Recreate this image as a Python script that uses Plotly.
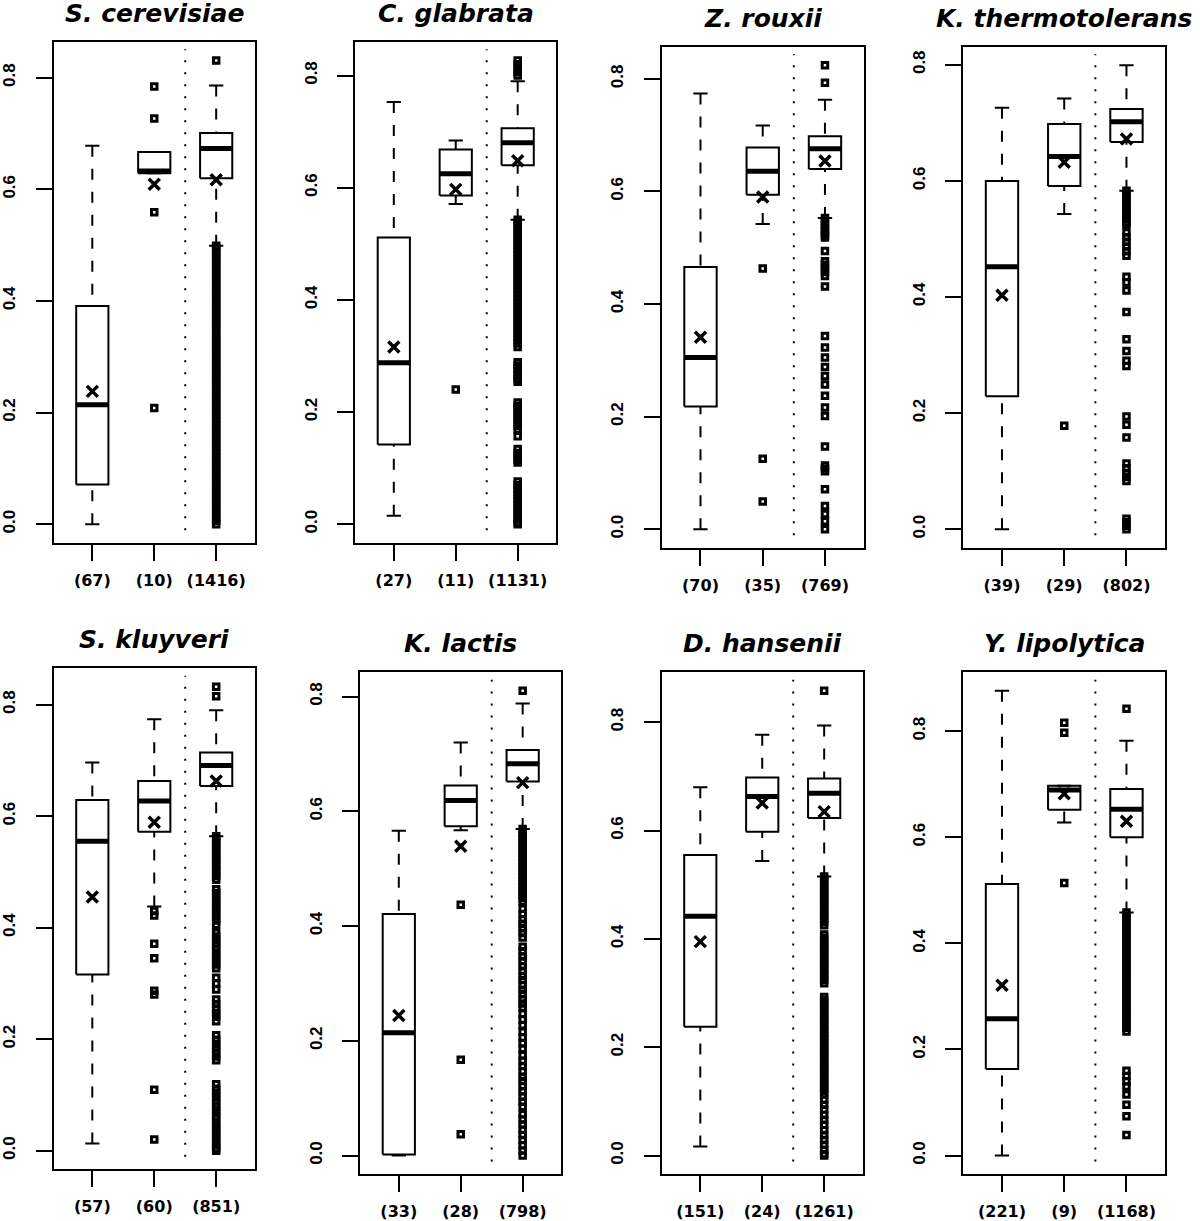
import plotly.graph_objects as go

W, H = 1200, 1221

species = ["S. cerevisiae", "C. glabrata", "Z. rouxii", "K. thermotolerans",
           "S. kluyveri", "K. lactis", "D. hansenii", "Y. lipolytica"]
group_pos = [1, 2, 3]
counts = [[67, 10, 1416], [27, 11, 1131], [70, 35, 769], [39, 29, 802],
          [57, 60, 851], [33, 28, 798], [151, 24, 1261], [221, 9, 1168]]

upper_whisker = [[0.678, 0.667, 0.786], [0.753, 0.684, 0.790], [0.774, 0.717, 0.763], [0.726, 0.742, 0.799],
                 [0.696, 0.774, 0.790], [0.566, 0.720, 0.788], [0.680, 0.777, 0.794], [0.876, 0.697, 0.782]]
upper_quartile = [[0.391, 0.667, 0.701], [0.511, 0.668, 0.706], [0.466, 0.678, 0.698], [0.600, 0.698, 0.724],
                  [0.629, 0.663, 0.714], [0.421, 0.645, 0.707], [0.555, 0.698, 0.696], [0.512, 0.697, 0.691]]
medians = [[0.214, 0.633, 0.673], [0.288, 0.625, 0.680], [0.305, 0.636, 0.676], [0.452, 0.642, 0.702],
           [0.555, 0.627, 0.691], [0.214, 0.619, 0.683], [0.442, 0.663, 0.669], [0.258, 0.689, 0.653]]
lower_quartile = [[0.071, 0.629, 0.620], [0.142, 0.586, 0.640], [0.218, 0.594, 0.640], [0.229, 0.591, 0.667],
                  [0.316, 0.572, 0.654], [0.002, 0.574, 0.652], [0.238, 0.598, 0.623], [0.163, 0.652, 0.600]]
lower_whisker = [[0.000, 0.629, 0.499], [0.015, 0.571, 0.543], [0.000, 0.542, 0.553], [0.000, 0.543, 0.583],
                 [0.013, 0.438, 0.564], [0.000, 0.567, 0.569], [0.017, 0.544, 0.515], [0.000, 0.628, 0.458]]
means = [[0.238, 0.609, 0.617], [0.316, 0.597, 0.648], [0.341, 0.590, 0.654], [0.403, 0.632, 0.672],
         [0.455, 0.589, 0.663], [0.244, 0.539, 0.650], [0.395, 0.651, 0.635], [0.321, 0.682, 0.630]]

outliers_scer = [
    [],
    [0.784, 0.727, 0.559, 0.208],
    [0.831, 0.499, 0.495, 0.489, 0.482, 0.476, 0.470, 0.463, 0.457, 0.451, 0.444, 0.438, 0.432, 0.425,
     0.419, 0.413, 0.406, 0.400, 0.394, 0.387, 0.381, 0.375, 0.368, 0.362, 0.356, 0.350, 0.342, 0.335,
     0.329, 0.323, 0.316, 0.310, 0.304, 0.297, 0.291, 0.285, 0.278, 0.272, 0.266, 0.259, 0.253, 0.247,
     0.240, 0.234, 0.228, 0.221, 0.215, 0.209, 0.202, 0.196, 0.190, 0.183, 0.177, 0.171, 0.164, 0.158,
     0.152, 0.145, 0.139, 0.133, 0.126, 0.120, 0.114, 0.107, 0.101, 0.095, 0.088, 0.082, 0.076, 0.069,
     0.063, 0.057, 0.050, 0.044, 0.038, 0.031, 0.025, 0.019, 0.012, 0.006, 0.000],
]
outliers_cgla = [
    [],
    [0.240],
    [0.827, 0.820, 0.813, 0.806, 0.800,
     0.543, 0.537, 0.530, 0.524, 0.517, 0.511, 0.504, 0.498, 0.491, 0.485, 0.478, 0.472, 0.465, 0.459,
     0.452, 0.446, 0.439, 0.433, 0.426, 0.420, 0.413, 0.407, 0.400, 0.394, 0.387, 0.381, 0.374, 0.368,
     0.361, 0.355, 0.348, 0.342, 0.335, 0.329, 0.322, 0.316,
     0.289, 0.283, 0.277, 0.271, 0.265, 0.259, 0.254,
     0.217, 0.211, 0.205, 0.199, 0.193, 0.187, 0.181, 0.175, 0.169, 0.157,
     0.134, 0.127, 0.121, 0.115, 0.110,
     0.076, 0.070, 0.064, 0.058, 0.052, 0.046, 0.040, 0.034, 0.028, 0.022, 0.016, 0.010, 0.004, 0.000],
]
outliers_zrou = [
    [],
    [0.463, 0.125, 0.049],
    [0.824, 0.793, 0.553, 0.547, 0.541, 0.535, 0.529, 0.523, 0.518, 0.494, 0.476, 0.470, 0.464, 0.457,
     0.450, 0.431, 0.343, 0.323, 0.305, 0.288, 0.272, 0.257, 0.237, 0.216, 0.201, 0.147, 0.113, 0.108,
     0.103, 0.071, 0.041, 0.027, 0.014, 0.000],
]
outliers_kthe = [
    [],
    [0.178],
    [0.583, 0.577, 0.571, 0.565, 0.559, 0.553, 0.547, 0.541, 0.535, 0.529, 0.525, 0.511, 0.503, 0.495,
     0.487, 0.479, 0.471, 0.435, 0.425, 0.411, 0.374, 0.327, 0.307, 0.290, 0.281, 0.194, 0.180, 0.158,
     0.113, 0.105, 0.097, 0.090, 0.083, 0.018, 0.012, 0.006, 0.000],
]
outliers_sklu = [
    [],
    [0.430, 0.422, 0.371, 0.345, 0.287, 0.280, 0.109, 0.020],
    [0.832, 0.815, 0.564, 0.558, 0.552, 0.546, 0.540, 0.534, 0.528, 0.522, 0.516, 0.510, 0.504, 0.498,
     0.492, 0.486, 0.469, 0.462, 0.455, 0.448, 0.441, 0.434, 0.427, 0.420, 0.413, 0.405, 0.391, 0.384,
     0.377, 0.370, 0.362, 0.355, 0.348, 0.341, 0.334, 0.327, 0.310, 0.300, 0.289, 0.271, 0.263, 0.255,
     0.247, 0.240, 0.232, 0.207, 0.199, 0.191, 0.184, 0.176, 0.169, 0.162, 0.119, 0.111, 0.104, 0.096,
     0.089, 0.081, 0.074, 0.067, 0.060, 0.052, 0.045, 0.038, 0.031, 0.024, 0.017, 0.010, 0.004, 0.000],
]
outliers_klac = [
    [],
    [0.437, 0.167, 0.037],
    [0.810, 0.569, 0.563, 0.557, 0.551, 0.545, 0.539, 0.533, 0.527, 0.521, 0.515, 0.509, 0.503, 0.497,
     0.491, 0.485, 0.479, 0.473, 0.467, 0.461, 0.455, 0.449, 0.443, 0.430, 0.421, 0.412, 0.404, 0.396,
     0.388, 0.380, 0.364, 0.356, 0.347, 0.339, 0.330, 0.322, 0.313, 0.306, 0.297, 0.289, 0.281, 0.273,
     0.265, 0.258, 0.247, 0.237, 0.227, 0.216, 0.206, 0.196, 0.186, 0.175, 0.165, 0.156, 0.147, 0.137,
     0.130, 0.121, 0.112, 0.103, 0.094, 0.085, 0.072, 0.063, 0.054, 0.045, 0.036, 0.027, 0.018, 0.009,
     0.000],
]
outliers_dhan = [
    [],
    [],
    [0.858, 0.515, 0.509, 0.503, 0.497, 0.491, 0.485, 0.479, 0.473, 0.467, 0.461, 0.455, 0.449, 0.443,
     0.437, 0.431, 0.425, 0.408, 0.402, 0.396, 0.390, 0.384, 0.378, 0.372, 0.366, 0.360, 0.354, 0.348,
     0.342, 0.336, 0.330, 0.324, 0.318, 0.293, 0.287, 0.281, 0.275, 0.269, 0.263, 0.257, 0.251, 0.245,
     0.239, 0.233, 0.227, 0.221, 0.215, 0.209, 0.203, 0.197, 0.191, 0.185, 0.179, 0.173, 0.167, 0.161,
     0.155, 0.149, 0.143, 0.137, 0.131, 0.125, 0.119, 0.113, 0.103, 0.094, 0.085, 0.075, 0.066, 0.057,
     0.047, 0.038, 0.029, 0.020, 0.011, 0.003, 0.000],
]
outliers_ylip = [
    [],
    [0.816, 0.797, 0.514],
    [0.842, 0.458, 0.451, 0.444, 0.437, 0.430, 0.423, 0.416, 0.409, 0.402, 0.395, 0.388, 0.381, 0.374,
     0.367, 0.360, 0.353, 0.346, 0.339, 0.332, 0.325, 0.318, 0.311, 0.304, 0.297, 0.290, 0.283, 0.276,
     0.269, 0.262, 0.255, 0.248, 0.241, 0.234, 0.160, 0.150, 0.140, 0.130, 0.115, 0.096, 0.074, 0.039],
]
outliers = [outliers_scer, outliers_cgla, outliers_zrou, outliers_kthe,
            outliers_sklu, outliers_klac, outliers_dhan, outliers_ylip]

y_ticks = [0.0, 0.2, 0.4, 0.6, 0.8]

# plot frames in pixels: left, top, right, bottom
frames = [(52, 42, 253, 545), (354, 42, 555, 545), (661, 47, 863, 550), (963, 47, 1165, 550),
          (52, 671, 253, 1174), (359, 675, 560, 1179), (661, 675, 862, 1179), (963, 675, 1165, 1179)]

BOX_HALF = 0.26
CAP_HALF = 0.115
TXT_FONT = "DejaVu Sans"
NUM_FONT = "Liberation Sans"

fig = go.Figure()
layout = {}

for p, name in enumerate(species):
    n = "" if p == 0 else str(p + 1)
    xa, ya = f"x{n}", f"y{n}"

    box_x, box_y, med_x, med_y = [], [], [], []
    wh_x, wh_y, cap_x, cap_y = [], [], [], []
    out_x, out_y = [], []
    for i, pos in enumerate(group_pos):
        lo, q1, md, q3, hi = (lower_whisker[p][i], lower_quartile[p][i], medians[p][i],
                              upper_quartile[p][i], upper_whisker[p][i])
        box_x += [pos - BOX_HALF, pos + BOX_HALF, pos + BOX_HALF, pos - BOX_HALF, pos - BOX_HALF, None]
        box_y += [q1, q1, q3, q3, q1, None]
        med_x += [pos - BOX_HALF, pos + BOX_HALF, None]
        med_y += [md, md, None]
        wh_x += [pos, pos, None, pos, pos, None]
        wh_y += [hi, q3, None, lo, q1, None]
        cap_x += [pos - CAP_HALF, pos + CAP_HALF, None, pos - CAP_HALF, pos + CAP_HALF, None]
        cap_y += [hi, hi, None, lo, lo, None]
        out_x += [pos] * len(outliers[p][i])
        out_y += outliers[p][i]

    common = dict(xaxis=xa, yaxis=ya, showlegend=False, hoverinfo="skip")
    fig.add_trace(go.Scatter(x=wh_x, y=wh_y, mode="lines",
                             line=dict(color="black", width=2, dash="11px,12px"), **common))
    fig.add_trace(go.Scatter(x=cap_x, y=cap_y, mode="lines", line=dict(color="black", width=2), **common))
    fig.add_trace(go.Scatter(x=box_x, y=box_y, mode="lines", line=dict(color="black", width=2), **common))
    fig.add_trace(go.Scatter(x=med_x, y=med_y, mode="lines", line=dict(color="black", width=5), **common))
    fig.add_trace(go.Scatter(x=out_x, y=out_y, mode="markers",
                             marker=dict(symbol="square-open", size=5.5, color="black", line=dict(width=3)),
                             **common))
    fig.add_trace(go.Scatter(x=group_pos, y=means[p], mode="markers",
                             marker=dict(symbol="x-thin", size=11, line=dict(width=3.5, color="black")),
                             **common))

    # dotted divider between the second and third group
    fig.add_shape(type="line", xref=xa, yref=f"{ya} domain",
                  x0=(group_pos[1] + group_pos[2]) / 2, x1=(group_pos[1] + group_pos[2]) / 2,
                  y0=0.025, y1=0.985, line=dict(color="black", width=2, dash="2px,10px"))

    all_vals = (upper_whisker[p] + lower_whisker[p] + [v for g in outliers[p] for v in g])
    vmin, vmax = min(all_vals), max(all_vals)
    pad = 0.04 * (vmax - vmin)

    left, top, right, bottom = frames[p]
    axis_style = dict(showline=True, mirror=True, linewidth=2, linecolor="black",
                      ticks="outside", ticklen=16, tickwidth=2, tickcolor="black",
                      showgrid=False, zeroline=False, fixedrange=True)
    layout[f"xaxis{n}"] = dict(
        domain=[left / W, right / W], anchor=ya, range=[0.38, 3.62],
        tickvals=group_pos, ticktext=[f"({c})" for c in counts[p]],
        tickfont=dict(family=TXT_FONT, size=16, color="black", weight="bold"),
        ticklabelstandoff=6, **axis_style)
    layout[f"yaxis{n}"] = dict(
        domain=[1 - bottom / H, 1 - top / H], anchor=xa, range=[vmin - pad, vmax + pad],
        tickvals=y_ticks, ticktext=[f"{t:.1f}" for t in y_ticks], tickangle=-90,
        tickfont=dict(family=NUM_FONT, size=17, color="black", weight="bold"),
        ticklabelstandoff=14, **axis_style)

    fig.add_annotation(text=f"<b><i>{name}</i></b>", xref="paper", yref="paper",
                       x=(left + right) / 2 / W, y=1 - (top - 12) / H,
                       xanchor="center", yanchor="bottom", showarrow=False,
                       font=dict(family=TXT_FONT, size=25, color="black"))

fig.update_layout(width=W, height=H, margin=dict(l=0, r=0, t=0, b=0),
                  paper_bgcolor="white", plot_bgcolor="white", **layout)

fig.write_html("out.html", config={"displayModeBar": False},
               post_script="document.body.style.margin = '0px';")
